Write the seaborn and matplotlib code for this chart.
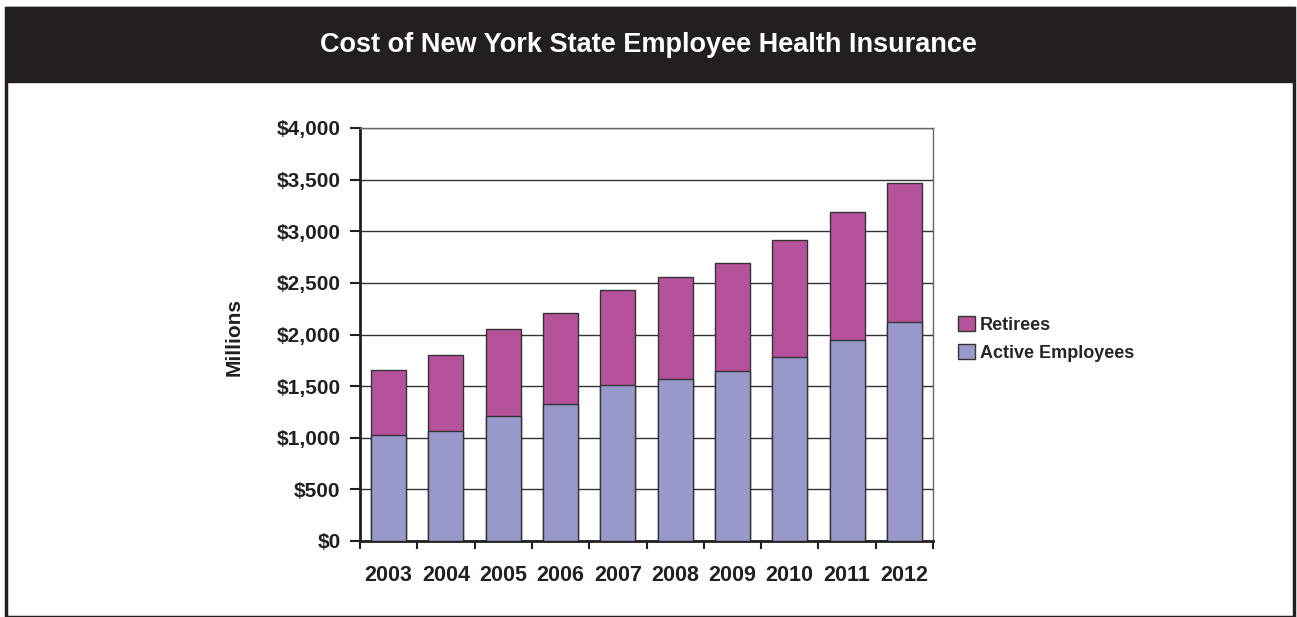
import pandas as pd
import matplotlib.pyplot as plt
import seaborn as sns
from matplotlib.patches import Rectangle, Patch
from matplotlib.ticker import FuncFormatter, MultipleLocator

# values (millions of dollars)
years = ['2003', '2004', '2005', '2006', '2007', '2008', '2009', '2010', '2011', '2012']
active = [1027, 1068, 1214, 1330, 1515, 1570, 1645, 1785, 1947, 2124]
retirees = [625, 735, 835, 880, 915, 990, 1045, 1130, 1236, 1346]

df = pd.DataFrame({'year': years, 'active': active, 'retirees': retirees})
df['total'] = df['active'] + df['retirees']

sns.set_style('white')
plt.rcParams['font.family'] = ['Liberation Sans', 'DejaVu Sans']
plt.rcParams['font.weight'] = 'bold'

dark = '#231f20'
c_ret = '#b5529b'
c_act = '#9898ca'

fig = plt.figure(figsize=(12.97, 6.17), dpi=100)

# outer frame and title bar
fig.patches.append(Rectangle((6 / 1297, 0.5 / 617), 1288 / 1297, 609 / 617,
                             transform=fig.transFigure, fill=False,
                             edgecolor=dark, linewidth=2.5))
fig.patches.append(Rectangle((6 / 1297, 1 - 82 / 617), 1288 / 1297, 75 / 617,
                             transform=fig.transFigure, facecolor=dark,
                             edgecolor=dark, linewidth=1))
fig.text(0.5, 1 - 45 / 617, 'Cost of New York State Employee Health Insurance',
         color='white', fontsize=19.5, fontweight='bold', ha='center', va='center')

ax = fig.add_axes([360 / 1297, 1 - 541 / 617, 573 / 1297, 413 / 617])

sns.barplot(data=df, x='year', y='total', color=c_ret, width=0.61,
            edgecolor='#333333', linewidth=1, saturation=1, ax=ax, zorder=3)
sns.barplot(data=df, x='year', y='active', color=c_act, width=0.61,
            edgecolor='#333333', linewidth=1, saturation=1, ax=ax, zorder=3)

ax.set_ylim(0, 4000)
ax.set_xlim(-0.5, len(years) - 0.5)
ax.yaxis.set_major_locator(MultipleLocator(500))
ax.yaxis.set_major_formatter(FuncFormatter(lambda v, p: f'${v:,.0f}'))
ax.grid(axis='y', color='#333333', linewidth=1, zorder=0)
ax.set_axisbelow(True)

ax.set_xlabel('')
ax.set_ylabel('Millions', fontsize=15, fontweight='bold', color=dark)
ax.yaxis.set_label_coords(-0.203, 0.495)

ax.tick_params(axis='y', which='major', left=True, length=7, width=1.5,
               color=dark, labelsize=15, labelcolor=dark, pad=7)
ax.tick_params(axis='x', which='major', bottom=False, labelsize=15.5,
               labelcolor=dark, pad=14)
ax.set_xticks([i - 0.5 for i in range(len(years) + 1)], minor=True)
ax.tick_params(axis='x', which='minor', bottom=True, length=6, width=1.5,
               color=dark)

for side in ['left', 'bottom']:
    ax.spines[side].set_color(dark)
    ax.spines[side].set_linewidth(2)
for side in ['right', 'top']:
    ax.spines[side].set_color('#666666')
    ax.spines[side].set_linewidth(1)

handles = [Patch(facecolor=c_ret, edgecolor='#333333', label='Retirees'),
           Patch(facecolor=c_act, edgecolor='#333333', label='Active Employees')]
fig.legend(handles=handles, loc='center left',
           bbox_to_anchor=(942 / 1297, 1 - 339 / 617), frameon=False,
           fontsize=13, handlelength=0.9, handleheight=0.9, handletextpad=0.3,
           labelspacing=0.55)

fig.savefig('out.png', dpi=100)
